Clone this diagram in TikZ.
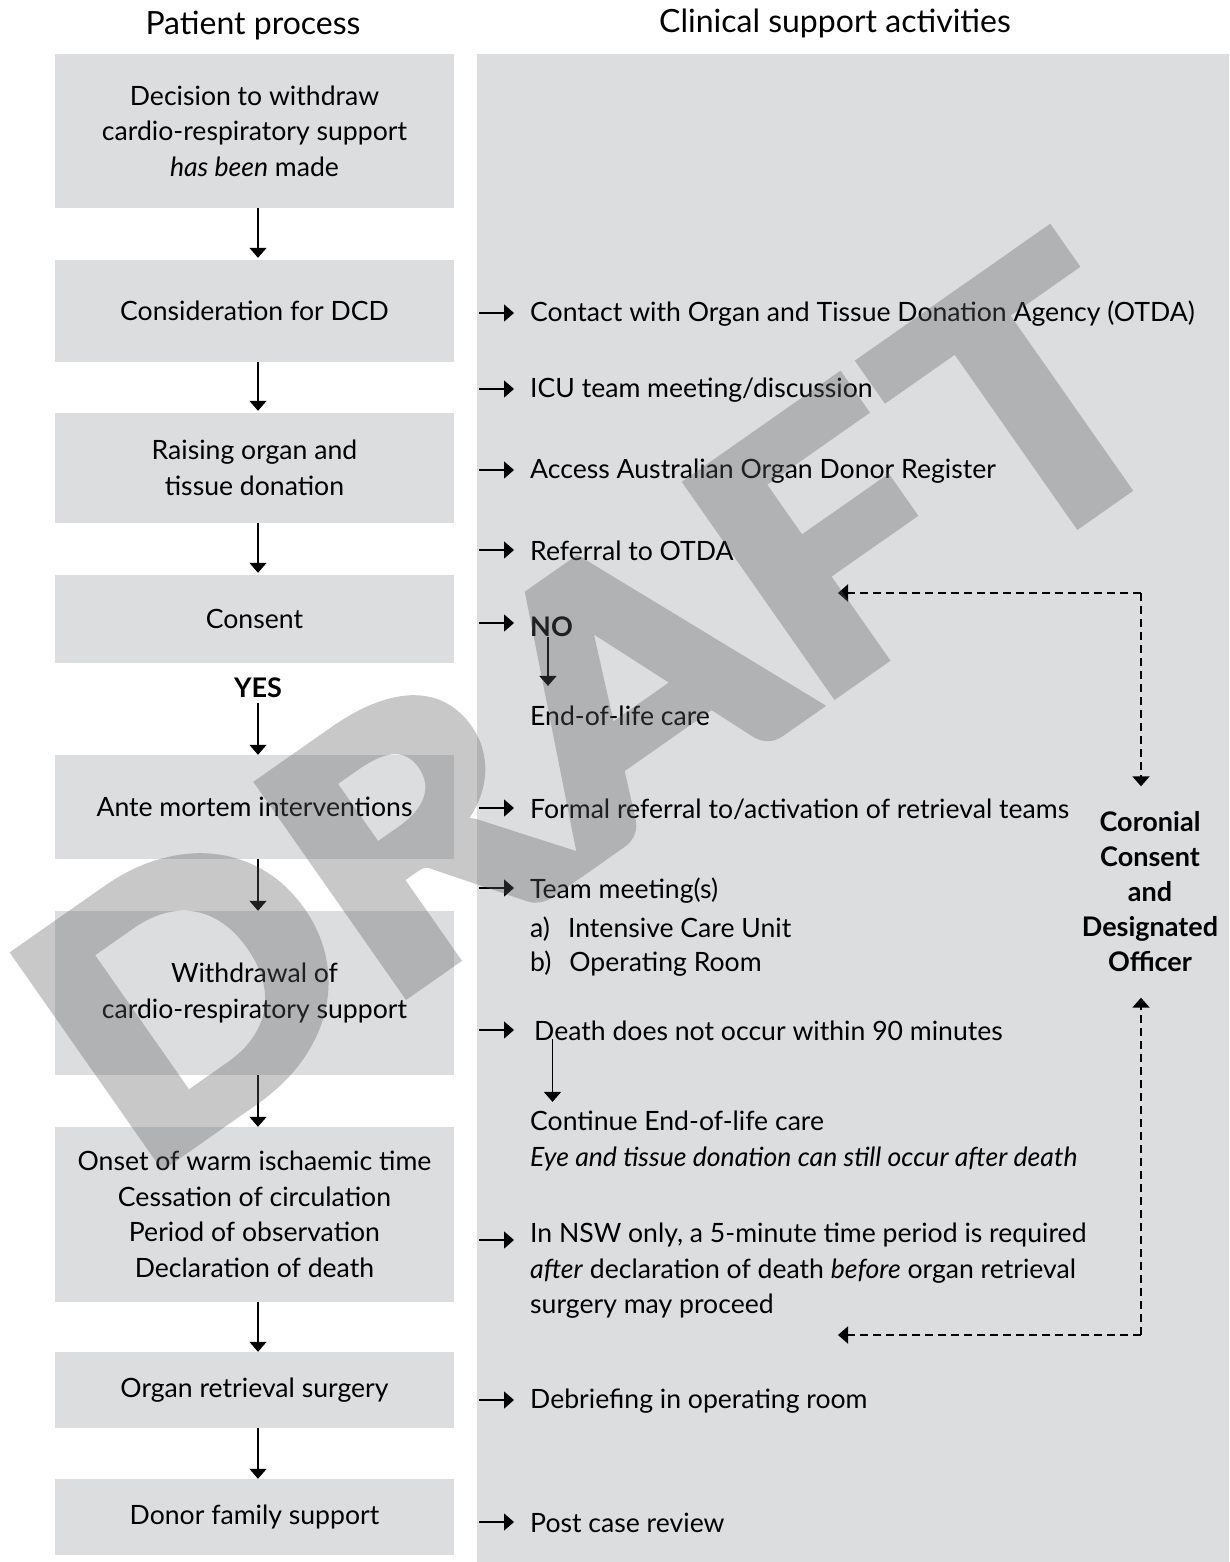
\documentclass[tikz,border=0pt]{standalone}
\usepackage{fontspec}
\setmainfont{Lato}
\newfontfamily\wmfont[BoldFeatures={FakeBold=4}]{Lato}
\usetikzlibrary{arrows.meta}
\definecolor{boxgray}{RGB}{220,221,223}
\definecolor{wmgray}{RGB}{95,95,97}
\begin{document}
\begin{tikzpicture}[x=1pt,y=-1pt,
  txt/.style={font=\fontsize{26.6}{35.5}\selectfont},
  box/.style={txt, fill=boxgray, minimum width=399pt, align=center, inner sep=0pt},
  item/.style={txt, anchor=west, inner sep=0pt, align=left},
  heading/.style={font=\fontsize{32}{36}\selectfont, inner sep=0pt},
  strong/.style={font=\fontsize{27}{35}\selectfont\bfseries, inner sep=0pt, align=center},
  flow/.style={line width=1.4pt, -{Triangle[length=10pt,width=17pt]}},
  dashflow/.style={line width=2pt, dash pattern=on 8pt off 5pt, -{Triangle[length=10pt,width=17pt]}}
]
\useasboundingbox (0,0) rectangle (1229,1562);
\fill[white] (0,0) rectangle (1229,1562);

% headings
\node[heading] (h1) at (253,26) {Patient process};
\node[heading] (h2) at (835,23) {Clinical support activities};

% right panel
\node[fill=boxgray, minimum width=752pt, minimum height=1508pt, inner sep=0pt, anchor=north west] (panel) at (477,54) {};

% patient process boxes
\node[box, minimum height=154pt] (b1) at (254.5,131) {Decision to withdraw\\cardio-respiratory support\\\textit{has been} made};
\node[box, minimum height=102pt] (b2) at (254.5,311) {Consideration for DCD};
\node[box, minimum height=110pt] (b3) at (254.5,468) {Raising organ and\\tissue donation};
\node[box, minimum height=88pt] (b4) at (254.5,619) {Consent};
\node[strong] (yes) at (258,688) {YES};
\node[box, minimum height=104pt] (b5) at (254.5,807) {Ante mortem interventions};
\node[box, minimum height=164pt] (b6) at (254.5,993) {Withdrawal of\\cardio-respiratory support};
\node[box, minimum height=175pt] (b7) at (254.5,1214.5) {Onset of warm ischaemic time\\Cessation of circulation\\Period of observation\\Declaration of death};
\node[box, minimum height=76pt] (b8) at (254.5,1390) {Organ retrieval surgery};
\node[box, minimum height=76pt] (b9) at (254.5,1517) {Donor family support};

% vertical flow arrows
\draw[flow] ([xshift=3.5pt]b1.south) -- ([xshift=3.5pt,yshift=2pt]b2.north);
\draw[flow] ([xshift=3.5pt]b2.south) -- ([xshift=3.5pt,yshift=2pt]b3.north);
\draw[flow] ([xshift=3.5pt]b3.south) -- ([xshift=3.5pt,yshift=2pt]b4.north);
\draw[flow] ([yshift=-5pt]yes.south) -- ([xshift=3.5pt]b5.north);
\draw[flow] ([xshift=3.5pt]b5.south) -- ([xshift=3.5pt]b6.north);
\draw[flow] ([xshift=3.5pt]b6.south) -- ([xshift=3.5pt]b7.north);
\draw[flow] ([xshift=3.5pt]b7.south) -- ([xshift=3.5pt]b8.north);
\draw[flow] ([xshift=3.5pt]b8.south) -- ([xshift=3.5pt]b9.north);

% clinical support items
\node[item] (r1) at (530,314) {Contact with Organ and Tissue Donation Agency (OTDA)};
\node[item] (r2) at (530,390) {ICU team meeting/discussion};
\node[item] (r3) at (530,471) {Access Australian Organ Donor Register};
\node[item] (r4) at (530,551) {Referral to OTDA};
\node[strong, anchor=west] (no) at (530,627) {NO};
\node[item] (eol) at (530,716) {End-of-life care};
\node[item] (r5) at (530,809) {Formal referral to/activation of retrieval teams};
\node[item] (r6) at (530,891) {Team meeting(s)};
\node[item] (r6a) at (530,929) {a)\hspace{18pt}Intensive Care Unit};
\node[item] (r6b) at (530,964) {b)\hspace{18pt}Operating Room};
\node[item] (r7) at (534,1031) {Death does not occur within 90 minutes};
\node[item] (cont) at (530,1121) {Continue End-of-life care};
\node[item] (eye) at (530,1159) {\itshape Eye and tissue donation can still occur after death};
\node[item, anchor=north west] (r8) at (530,1223) {In NSW only, a 5-minute time period is required\\\textit{after} declaration of death \textit{before} organ retrieval\\surgery may proceed};
\node[item] (r9) at (530,1401) {Debriefing in operating room};
\node[item] (r10) at (530,1523) {Post case review};

% horizontal arrows
\foreach \yy in {313, 389, 470, 550, 623, 808, 888, 1030, 1240, 1400, 1522}{
  \draw[flow] ([xshift=2pt]panel.west |- 0,\yy) -- (514,\yy);
}

% sub arrows
\draw[flow] (no.south -| 548,0) -- ([yshift=20pt]eol.north -| 548,0);
\draw[flow] ([yshift=2pt]r7.south -| 552.5,0) -- ([yshift=9pt]cont.north -| 552.5,0);

% coronial
\node[strong, minimum height=211pt] (cor) at (1150,892) {Coronial\\Consent\\and\\Designated\\Officer};
\coordinate (ctop) at (1141,593);
\coordinate (cbot) at (1141,1335);
\coordinate (ltop) at (838,593);
\coordinate (lbot) at (838,1335);
\draw[dashflow] (ctop) -- (ltop);
\draw[dashflow] (ctop) -- (ctop |- cor.north);
\draw[dashflow] (cbot) -- (lbot);
\draw[dashflow] (cbot) -- (cbot |- cor.south);

% watermark
\begin{scope}[transparency group, opacity=0.34]
\node[rotate=35, anchor=base, inner sep=0pt, text=wmgray, font=\fontsize{349}{349}\selectfont\wmfont\bfseries] (wm) at (668,808) {\scalebox{1.12}[1]{DRAF\kern14pt T}};
\end{scope}
\end{tikzpicture}
\end{document}
